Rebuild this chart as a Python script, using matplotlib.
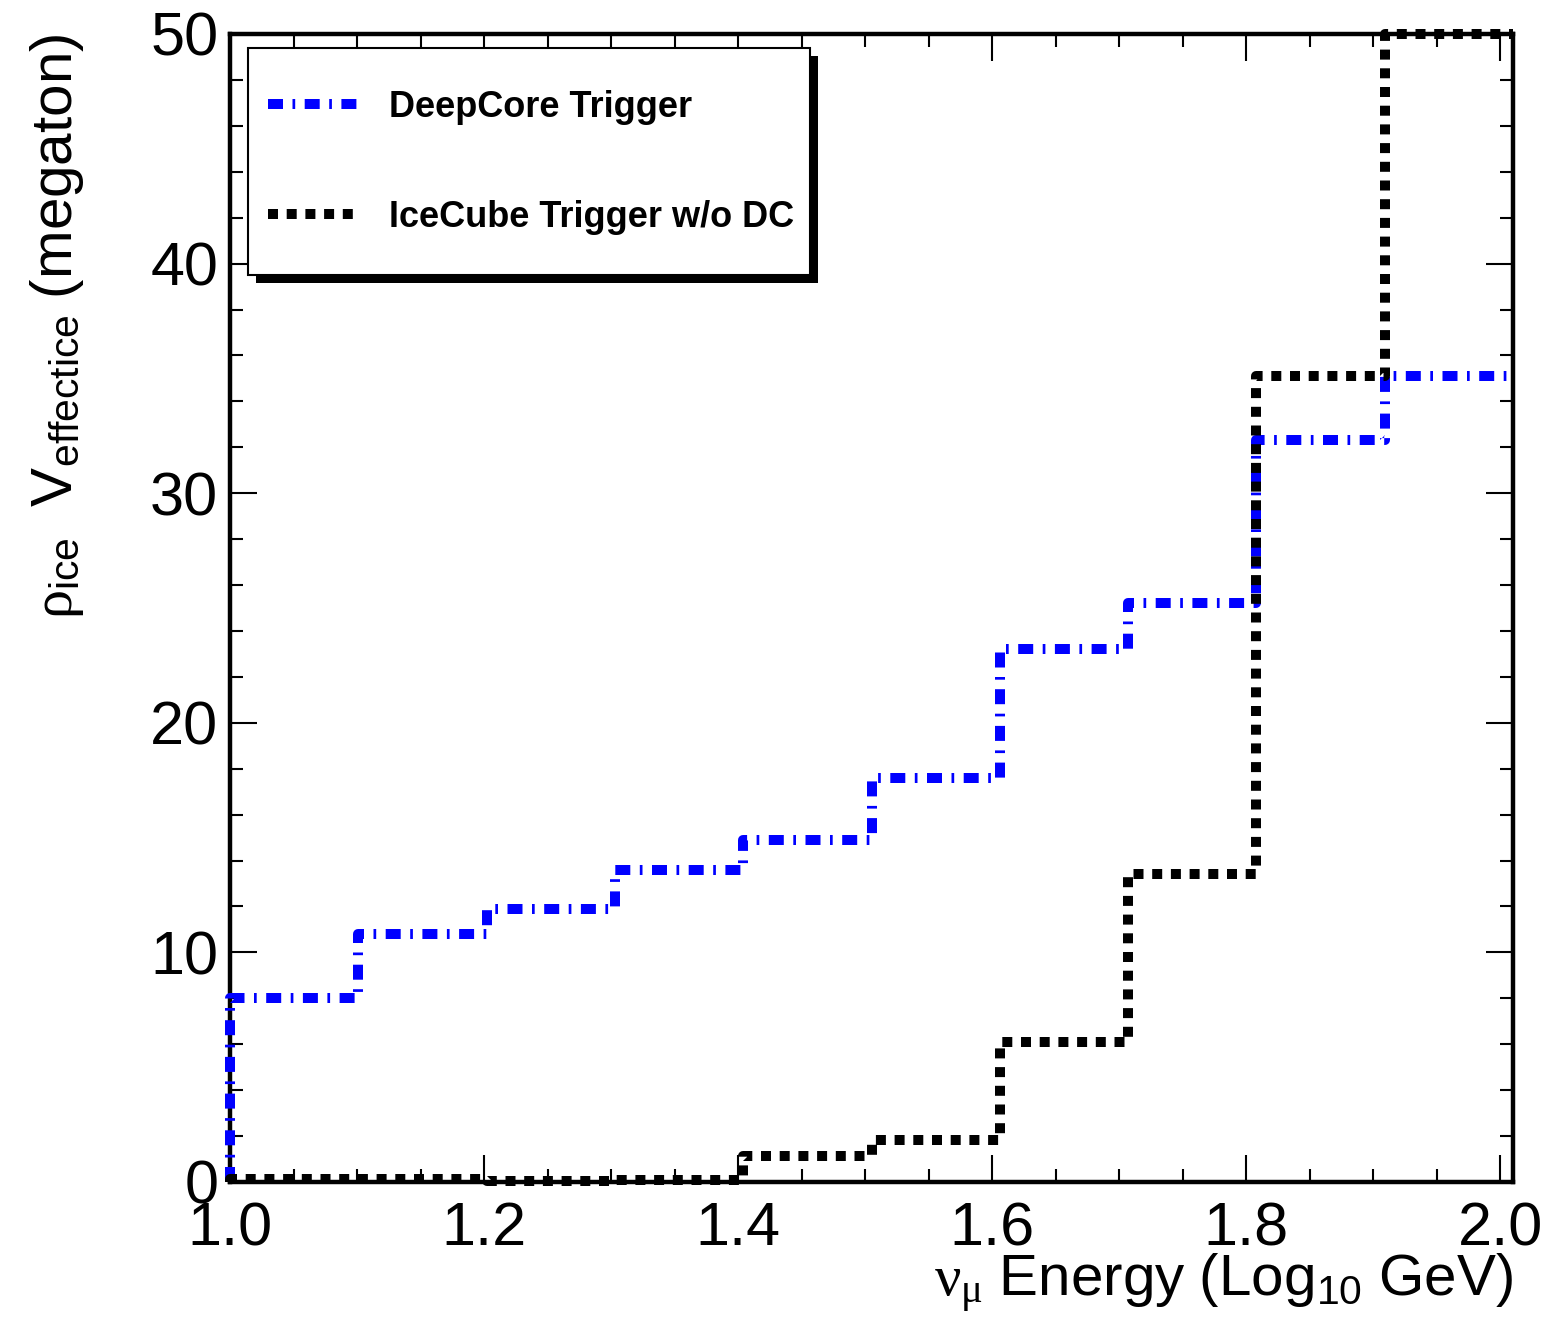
import numpy as np
import matplotlib
matplotlib.use('Agg')
import matplotlib.pyplot as plt
from matplotlib.patches import Rectangle
from matplotlib.ticker import MultipleLocator, FixedLocator

# ---------------- data ----------------
bin_edges = [1.0, 1.101, 1.202, 1.303, 1.404, 1.505, 1.606, 1.707, 1.808, 1.909, 2.01]
deepcore = [8.0, 10.8, 11.9, 13.6, 14.9, 17.6, 23.2, 25.2, 32.3, 35.1]
icecube = [0.12, 0.12, 0.06, 0.1, 1.15, 1.85, 6.1, 13.4, 35.1, 50.0]
series_labels = ['DeepCore Trigger', 'IceCube Trigger w/o DC']
xticks = [1.0, 1.2, 1.4, 1.6, 1.8, 2.0]
xtick_labels = ['1.0', '1.2', '1.4', '1.6', '1.8', '2.0']
yticks = [0, 10, 20, 30, 40, 50]
ytick_labels = ['0', '10', '20', '30', '40', '50']
xlabel = r'$\nu_{\mu}\ \mathrm{Energy\ (Log_{10}\ GeV)}$'
ylabel = r'$\rho_{\mathrm{ice}}\ \ \mathrm{V}_{\mathrm{effectice}}\ \mathrm{(megaton)}$'

plt.rcParams['font.family'] = ['Liberation Sans', 'DejaVu Sans']
plt.rcParams['mathtext.fontset'] = 'custom'
plt.rcParams['mathtext.rm'] = 'Liberation Sans'
plt.rcParams['mathtext.it'] = 'Liberation Serif'
plt.rcParams['mathtext.bf'] = 'Liberation Sans:bold'

W, H = 1548, 1323
fig = plt.figure(figsize=(W / 100, H / 100), dpi=100)
L, R, T, B = 230, 1513, 34, 1182
ax = fig.add_axes([L / W, 1 - B / H, (R - L) / W, (B - T) / H])


def step_xy(edges, vals):
    e = np.asarray(edges, float)
    v = np.asarray(vals, float)
    x = np.concatenate([[e[0]], e])
    y = np.concatenate([[0.0], v, [v[-1]]])
    return x, y


x1, y1 = step_xy(bin_edges, deepcore)
x2, y2 = step_xy(bin_edges, icecube)
lw = 7.2
l1, = ax.plot(x1, y1, drawstyle='steps-post', color='#0000ff', lw=lw,
              dashes=(1.5, 0.95, 0.27, 0.95), dash_capstyle='butt',
              clip_on=False, zorder=3, label=series_labels[0])
l2, = ax.plot(x2, y2, drawstyle='steps-post', color='black', lw=lw,
              dashes=(1.0, 0.87), dash_capstyle='butt',
              clip_on=False, zorder=3.1, label=series_labels[1])

ax.set_xlim(bin_edges[0], bin_edges[-1])
ax.set_ylim(0, 50)
ax.xaxis.set_major_locator(FixedLocator(xticks))
ax.set_xticklabels(xtick_labels)
ax.xaxis.set_minor_locator(MultipleLocator(0.05))
ax.yaxis.set_major_locator(FixedLocator(yticks))
ax.set_yticklabels(ytick_labels)
ax.yaxis.set_minor_locator(MultipleLocator(2))

for s in ax.spines.values():
    s.set_linewidth(3.2)
ax.tick_params(which='both', direction='in', top=True, right=True, width=1.5,
               colors='black')
ax.tick_params(which='major', length=19.5, labelsize=44)
ax.tick_params(which='minor', length=9.5)
ax.tick_params(axis='x', which='major', pad=14)
ax.tick_params(axis='y', which='major', pad=8.5)

ax.set_xlabel(xlabel, fontsize=42, ha='right')
ax.xaxis.set_label_coords(1.0, -0.0606)
ax.xaxis.label.set_va('top')
ax.set_ylabel(ylabel, fontsize=42, ha='right')
ax.yaxis.set_label_coords(-0.112, 1.0)

# legend frame + shadow (ROOT style), then entries
bx0, bx1, by0, by1 = 248, 810, 48, 275
shadow = Rectangle(((bx0 + 8) / W, 1 - (by1 + 8) / H), (bx1 - bx0) / W, (by1 - by0) / H,
                   transform=fig.transFigure, facecolor='black', edgecolor='none',
                   zorder=4.8, clip_on=False)
frame = Rectangle((bx0 / W, 1 - by1 / H), (bx1 - bx0) / W, (by1 - by0) / H,
                  transform=fig.transFigure, facecolor='white', edgecolor='black',
                  linewidth=1.5, zorder=4.9, clip_on=False)
ax.add_artist(shadow)
ax.add_artist(frame)

leg_fs = 26
leg = ax.legend(handles=[l1, l2], loc='center left',
                bbox_to_anchor=(268 / W, 1 - 162.5 / H),
                bbox_transform=fig.transFigure, borderaxespad=0, borderpad=0,
                prop={'weight': 'bold', 'size': leg_fs},
                handlelength=2.55, handletextpad=0.8,
                handleheight=0.77, labelspacing=2.08, frameon=False)
leg.set_zorder(5)

fig.savefig('out.png', dpi=100)
